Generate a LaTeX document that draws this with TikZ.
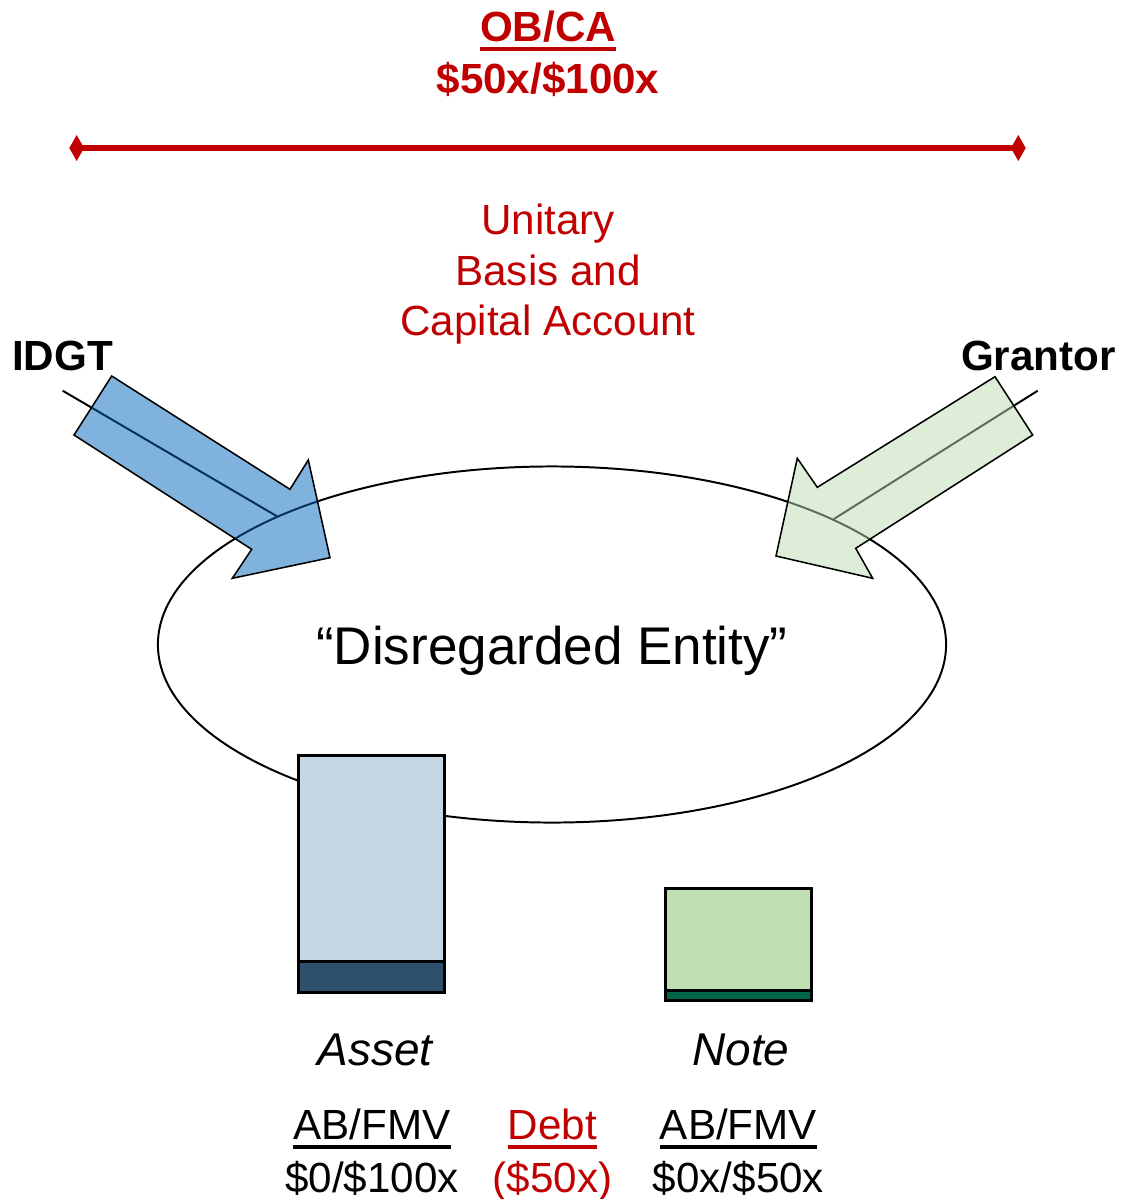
\documentclass[tikz,border=0pt]{standalone}
\usepackage{fontspec}
\setmainfont{Liberation Sans}
\usetikzlibrary{arrows.meta,positioning,shapes.geometric}

\definecolor{darkred}{RGB}{192,0,0}
\definecolor{idgtblue}{RGB}{0,101,185}
\definecolor{grantorgreen}{RGB}{189,219,177}
\definecolor{assetlight}{RGB}{198,216,230}
\definecolor{assetdark}{RGB}{46,80,108}
\definecolor{notelight}{RGB}{192,224,180}
\definecolor{notedark}{RGB}{0,100,72}

\newcommand{\ulbar}[1]{\setbox0\hbox{#1}\rlap{\vrule width \wd0 height -3.8pt depth 6.6pt}\box0}

\tikzstyle{lbl}=[inner sep=0pt,anchor=base,font=\fontsize{30}{36}\selectfont]
\tikzstyle{bold lbl}=[lbl,font=\fontsize{30}{36}\selectfont\bfseries]
\tikzstyle{item lbl}=[lbl,font=\fontsize{32.7}{39}\selectfont\itshape]
\tikzstyle{flow}=[line width=1.4pt]
\tikzstyle{bigarrow}=[draw=black,line width=1.1pt,fill opacity=0.5,line join=miter]

\begin{document}
\begin{tikzpicture}[x=0.025cm,y=-0.025cm,node distance=1cm]
  \tikzstyle{asset box}=[rectangle,draw,line width=2.1pt,fill=assetlight,inner sep=0pt,
      minimum width=3.65cm,minimum height=5.925cm,
      path picture={\fill[assetdark] (path picture bounding box.south west) rectangle ([yshift=22.4pt]path picture bounding box.south east);
        \draw[line width=2.1pt] ([yshift=22.4pt]path picture bounding box.south west) -- ([yshift=22.4pt]path picture bounding box.south east);}]
  \tikzstyle{note box}=[rectangle,draw,line width=2.1pt,fill=notelight,inner sep=0pt,
      minimum width=3.65cm,minimum height=2.8cm,
      path picture={\fill[notedark] (path picture bounding box.south west) rectangle ([yshift=7.1pt]path picture bounding box.south east);
        \draw[line width=2.1pt] ([yshift=7.1pt]path picture bounding box.south west) -- ([yshift=7.1pt]path picture bounding box.south east);}]

  \useasboundingbox (0,0) rectangle (1121,1199);

  % heading and bar
  \node[bold lbl,text=darkred] (obca) at (548,41.7) {\ulbar{OB/CA}};
  \node[bold lbl,text=darkred,below=36.5pt of obca.base,anchor=base] (obcaval) {\$50x/\$100x};
  \coordinate (barL) at (69.3,148);
  \coordinate (barR) at (1025.7,148);
  \draw[line width=3.8pt,darkred,{Diamond[length=10.5pt,width=18.5pt]}-{Diamond[length=10.5pt,width=18.5pt]}] (barL) -- (barR);

  \node[lbl,text=darkred,align=center] (unitary) at (548,335.7) {Unitary\\Basis and\\Capital Account};

  % the two parties
  \node[bold lbl] (idgt) at (62.5,370.5) {IDGT};
  \node[bold lbl] (grantor) at (1038.5,370.5) {Grantor};

  \node[ellipse,draw,line width=1.4pt,minimum width=19.7cm,minimum height=8.9cm,inner sep=0pt] (entity) at (552,644.5) {};
  \node[lbl,font=\fontsize{37.7}{45}\selectfont] (entname) at (552,664) {“Disregarded Entity”};

  \coordinate (idgtEnd) at (62.7,390.7);
  \coordinate (grantorEnd) at (1037.7,390.7);
  \draw[flow] (idgtEnd) -- (entity.155.7);
  \draw[flow] (grantorEnd) -- (entity.24.2);

  \filldraw[bigarrow,fill=idgtblue] (111.7,376) -- (290,489.3) -- (308.3,460) -- (330,557.7)
      -- (232.3,578.3) -- (251.7,549.3) -- (74,435) -- cycle;
  \filldraw[bigarrow,fill=grantorgreen] (995,376.7) -- (817.3,487.3) -- (797.3,458.3) -- (776,556)
      -- (872.7,578.3) -- (855.7,548.3) -- (1032.7,435) -- cycle;

  % holdings
  \node[asset box] (asset) at (371.5,874) {};
  \node[note box] (note) at (738.5,944.5) {};

  \node[item lbl] (assetname) at (375,1065) {Asset};
  \node[item lbl] (notename) at (741,1065) {Note};

  \node[lbl] (abA) at (372,1139.5) {\ulbar{AB/FMV}};
  \node[lbl,below=37.7pt of abA.base,anchor=base] (valA) {\$0/\$100x};
  \node[lbl,text=darkred] (debt) at (552.5,1139.5) {\ulbar{Debt}};
  \node[lbl,text=darkred,below=37.7pt of debt.base,anchor=base] (debtval) {(\$50x)};
  \node[lbl] (abN) at (738.5,1139.5) {\ulbar{AB/FMV}};
  \node[lbl,below=37.7pt of abN.base,anchor=base] (valN) {\$0x/\$50x};
\end{tikzpicture}
\end{document}
